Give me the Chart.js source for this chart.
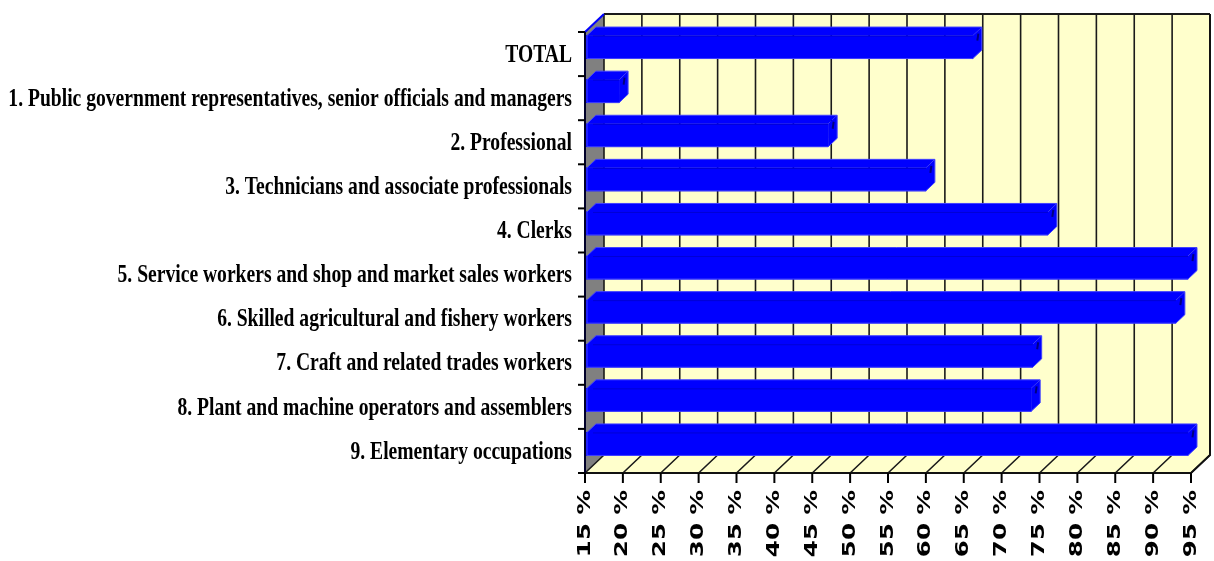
<!DOCTYPE html>
<html>
<head>
<meta charset="utf-8">
<script src="https://cdn.jsdelivr.net/npm/chart.js@4.4.1/dist/chart.umd.min.js"></script>
<style>
  html, body { margin: 0; padding: 0; background: #ffffff; }
  #wrap { width: 1214px; height: 561px; position: relative; }
</style>
</head>
<body>
<div id="wrap"><canvas id="occChart"></canvas></div>
<script>
// Occupation groups (top to bottom)
const categories = [
  'TOTAL',
  '1. Public government representatives, senior officials and managers',
  '2. Professional',
  '3. Technicians and associate professionals',
  '4. Clerks',
  '5. Service workers and shop and market sales workers',
  '6. Skilled agricultural and fishery workers',
  '7. Craft and related trades workers',
  '8. Plant and machine operators and assemblers',
  '9. Elementary occupations'
];

// Share in %
const shares = [66.2, 19.5, 47.1, 60.0, 76.1, 94.6, 93.0, 74.1, 73.9, 94.6];

// Value axis
const tickValues = [15, 20, 25, 30, 35, 40, 45, 50, 55, 60, 65, 70, 75, 80, 85, 90, 95];
const tickLabels = ['15 %', '20 %', '25 %', '30 %', '35 %', '40 %', '45 %', '50 %', '55 %',
  '60 %', '65 %', '70 %', '75 %', '80 %', '85 %', '90 %', '95 %'];

// 3D look
const depthX = 19, depthY = 18;      // wall depth
const barDX = 9, barDY = 8.5;        // bar depth
const barShift = -7;                 // bars sit a bit behind the front plane
const barBlue = '#0000FF';

function poly(ctx, pts) {
  ctx.beginPath();
  ctx.moveTo(pts[0][0], pts[0][1]);
  for (let i = 1; i < pts.length; i++) ctx.lineTo(pts[i][0], pts[i][1]);
  ctx.closePath();
}

const box3d = {
  id: 'box3d',
  beforeDatasetsDraw(chart) {
    const { ctx, chartArea: a, scales: { x } } = chart;
    ctx.save();
    // left side wall
    ctx.fillStyle = '#808080';
    poly(ctx, [[a.left, a.top], [a.left + depthX, a.top - depthY], [a.left + depthX, a.bottom - depthY], [a.left, a.bottom]]);
    ctx.fill();
    // back wall
    ctx.fillStyle = '#FFFFCC';
    ctx.fillRect(a.left + depthX, a.top - depthY, a.right - a.left, a.bottom - a.top);
    // floor
    poly(ctx, [[a.left, a.bottom], [a.right, a.bottom], [a.right + depthX, a.bottom - depthY], [a.left + depthX, a.bottom - depthY]]);
    ctx.fill();

    // grid lines on wall and floor
    ctx.strokeStyle = '#1a1a1a';
    ctx.lineWidth = 1.6;
    tickValues.forEach(v => {
      const px = x.getPixelForValue(v);
      ctx.beginPath();
      ctx.moveTo(px + depthX, a.top - depthY);
      ctx.lineTo(px + depthX, a.bottom - depthY);
      ctx.moveTo(px, a.bottom);
      ctx.lineTo(px + depthX, a.bottom - depthY);
      ctx.stroke();
    });
    // top edge of back wall
    ctx.lineWidth = 2.2;
    ctx.beginPath();
    ctx.moveTo(a.left + depthX, a.top - depthY);
    ctx.lineTo(a.right + depthX, a.top - depthY);
    ctx.stroke();
    // top edge of side wall
    ctx.strokeStyle = '#0000FF';
    ctx.lineWidth = 2;
    ctx.beginPath();
    ctx.moveTo(a.left, a.top);
    ctx.lineTo(a.left + depthX, a.top - depthY);
    ctx.stroke();
    ctx.restore();

    ctx.save();
    ctx.translate(0, barShift);
  },
  afterDatasetsDraw(chart) {
    const { ctx, chartArea: a, scales: { x, y } } = chart;
    ctx.restore();

    // top and end faces of the bars
    const meta = chart.getDatasetMeta(0);
    meta.data.forEach(bar => {
      const p = bar.getProps(['x', 'y', 'base', 'height'], true);
      const xr = p.x, xl = p.base + 2;
      const yTop = p.y - p.height / 2 + barShift;
      const yBot = p.y + p.height / 2 + barShift;
      ctx.save();
      ctx.fillStyle = barBlue;
      ctx.strokeStyle = '#4040ff';
      ctx.lineWidth = 1;
      poly(ctx, [[xl, yTop], [xr, yTop], [xr + barDX, yTop - barDY], [xl + barDX, yTop - barDY]]);
      ctx.fill();
      poly(ctx, [[xr, yTop], [xr + barDX, yTop - barDY], [xr + barDX, yBot - barDY], [xr, yBot]]);
      ctx.fill();
      // outline
      poly(ctx, [[xl, yBot], [xl, yTop], [xl + barDX, yTop - barDY], [xr + barDX, yTop - barDY], [xr + barDX, yBot - barDY], [xr, yBot]]);
      ctx.stroke();
      // edge between top and front
      ctx.strokeStyle = 'rgba(0,0,110,0.3)';
      ctx.beginPath();
      ctx.moveTo(xl + 6, yTop + 0.5);
      ctx.lineTo(xr, yTop + 0.5);
      ctx.stroke();
      // small mark on the end face
      ctx.strokeStyle = '#000080';
      ctx.lineWidth = 2;
      ctx.beginPath();
      ctx.moveTo(xr + 5.5, yTop - 2);
      ctx.lineTo(xr + 4.5, yTop + 5);
      ctx.stroke();
      ctx.restore();
    });

    ctx.save();
    // outer frame: right edge, floor front edge
    ctx.strokeStyle = '#111111';
    ctx.lineWidth = 2;
    ctx.beginPath();
    ctx.moveTo(a.right + depthX, a.top - depthY);
    ctx.lineTo(a.right + depthX, a.bottom - depthY);
    ctx.lineTo(a.right, a.bottom);
    ctx.lineTo(a.left, a.bottom);
    ctx.stroke();
    // category axis line
    ctx.strokeStyle = '#00002a';
    ctx.beginPath();
    ctx.moveTo(a.left, a.top);
    ctx.lineTo(a.left, a.bottom);
    ctx.stroke();

    // category ticks
    ctx.strokeStyle = '#000000';
    for (let k = 0; k <= categories.length; k++) {
      const yy = y.getPixelForValue(k - 0.5);
      ctx.beginPath();
      ctx.moveTo(a.left - 7, yy);
      ctx.lineTo(a.left, yy);
      ctx.stroke();
    }
    // value ticks
    tickValues.forEach(v => {
      const px = x.getPixelForValue(v);
      ctx.beginPath();
      ctx.moveTo(px, a.bottom);
      ctx.lineTo(px, a.bottom + 10);
      ctx.stroke();
    });

    // category labels (narrow, tall serif)
    ctx.fillStyle = '#000000';
    ctx.font = 'bold 19.6px "Liberation Serif", "Times New Roman", serif';
    ctx.textAlign = 'right';
    ctx.textBaseline = 'middle';
    categories.forEach((c, i) => {
      const yc = y.getPixelForValue(i);
      ctx.save();
      ctx.scale(1, 1.32);
      ctx.fillText(c, a.left - 13, (yc + 1) / 1.32);
      ctx.restore();
    });

    // value labels, rotated
    ctx.font = 'bold 17.5px "DejaVu Sans", Verdana, sans-serif';
    tickValues.forEach((v, i) => {
      const px = x.getPixelForValue(v);
      ctx.save();
      ctx.translate(px, a.bottom + 17);
      ctx.rotate(-Math.PI / 2);
      ctx.scale(1.4, 1);
      ctx.textAlign = 'right';
      ctx.textBaseline = 'middle';
      ctx.fillText(tickLabels[i], 0, 0);
      ctx.restore();
    });
    ctx.restore();
  }
};

new Chart(document.getElementById('occChart').getContext('2d'), {
  type: 'bar',
  data: {
    labels: categories,
    datasets: [{
      data: shares,
      base: 15,
      backgroundColor: barBlue,
      borderWidth: 0,
      barThickness: 23,
      clip: false
    }]
  },
  options: {
    indexAxis: 'y',
    responsive: true,
    maintainAspectRatio: false,
    animation: false,
    layout: { padding: { left: 585, right: 23, top: 32, bottom: 88 } },
    plugins: { legend: { display: false }, tooltip: { enabled: false } },
    scales: {
      x: { type: 'linear', min: 15, max: 95, display: false },
      y: { display: false }
    }
  },
  plugins: [box3d]
});
</script>
</body>
</html>
